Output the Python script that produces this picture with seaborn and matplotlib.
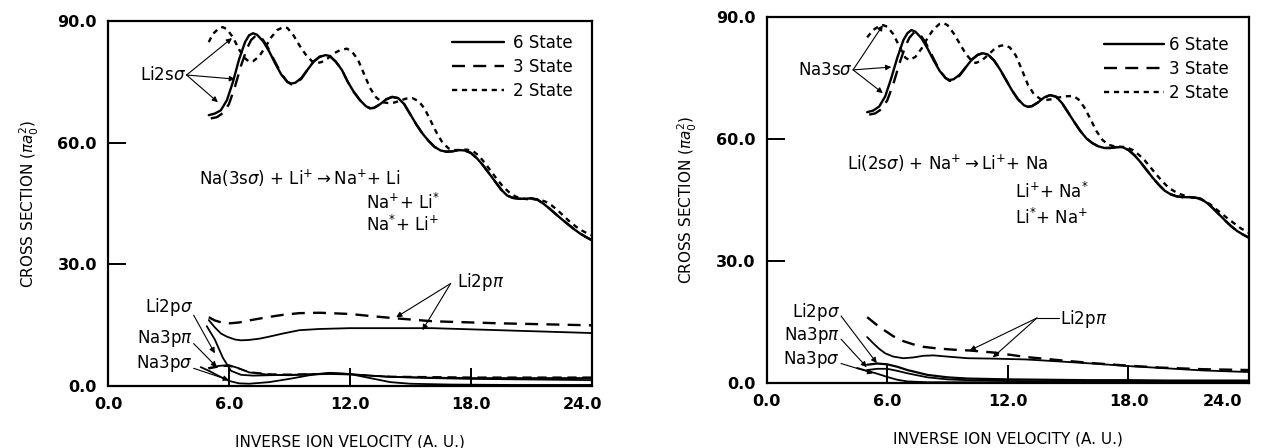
import numpy as np
import pandas as pd
import matplotlib
matplotlib.use('Agg')
import matplotlib.pyplot as plt
import matplotlib.transforms as mtransforms
import seaborn as sns

# ---- left panel: Na(3s) + Li+ ----
l_x6 = [5.0, 5.3, 5.6, 5.9, 6.2, 6.5, 6.8, 7.0, 7.2, 7.4, 7.7, 8.0, 8.3, 8.6, 8.9, 9.1, 9.3, 9.6, 9.9, 10.2,
        10.5, 10.8, 11.0, 11.3, 11.6, 11.9, 12.2, 12.5, 12.8, 13.0, 13.2, 13.5, 13.8, 14.1, 14.4, 14.7, 15.0, 15.3,
        15.6, 15.9, 16.2, 16.5, 16.8, 17.1, 17.4, 17.7, 18.0, 18.3, 18.6, 18.9, 19.2, 19.5, 19.8, 20.1, 20.4, 20.7,
        21.0, 21.3, 21.6, 21.9, 22.2, 22.5, 22.8, 23.1, 23.4, 23.7, 24.0]
l_y6 = [66.8, 67.2, 68.0, 70.5, 75.0, 80.5, 84.8, 86.5, 87.0, 86.6, 85.0, 82.5, 79.5, 76.8, 75.0, 74.6, 74.8, 76.0, 78.0, 80.0,
        81.2, 81.6, 81.4, 80.0, 78.0, 75.0, 72.5, 70.5, 69.0, 68.5, 68.6, 69.5, 70.7, 71.3, 71.0, 69.5, 67.0, 64.5,
        62.3, 60.5, 59.0, 58.1, 57.8, 57.9, 58.2, 58.1, 57.5, 56.2, 54.5, 52.5, 50.5, 48.5, 47.0, 46.4, 46.2, 46.2,
        46.3, 46.0, 45.0, 43.8, 42.5, 41.2, 40.0, 38.8, 37.7, 36.8, 36.0]
l_x3 = [5.1, 5.4, 5.7, 6.0, 6.3, 6.6, 6.9, 7.1, 7.35, 7.6, 7.9, 8.2, 8.6, 8.9, 9.1, 9.3, 9.6, 9.9, 10.2,
        10.5, 10.8, 11.0, 11.3, 11.6, 11.9, 12.2, 12.5, 12.8, 13.0, 13.2, 13.5, 13.8, 14.1, 14.4, 14.7, 15.0, 15.3,
        15.6, 15.9, 16.2, 16.5, 16.8, 17.1, 17.4, 17.7, 18.0, 18.3, 18.6, 18.9, 19.2, 19.5, 19.8, 20.1, 20.4, 20.7,
        21.0, 21.3, 21.6, 21.9, 22.2, 22.5, 22.8, 23.1, 23.4, 23.7, 24.0]
l_y3 = [66.0, 66.3, 67.3, 69.5, 73.8, 79.0, 83.3, 85.3, 86.5, 86.0, 83.8, 80.8, 77.0, 75.0, 74.4, 74.6, 75.8, 78.0, 80.0,
        81.2, 81.6, 81.4, 80.0, 78.0, 75.0, 72.5, 70.5, 69.0, 68.5, 68.6, 69.5, 70.7, 71.3, 71.0, 69.5, 67.0, 64.5,
        62.3, 60.5, 59.0, 58.1, 57.8, 57.9, 58.2, 58.1, 57.5, 56.2, 54.5, 52.5, 50.5, 48.5, 47.0, 46.4, 46.2, 46.2,
        46.3, 46.0, 45.0, 43.8, 42.5, 41.2, 40.0, 38.8, 37.7, 36.8, 36.0]
l_x2 = [5.0, 5.2, 5.5, 5.7, 5.9, 6.2, 6.5, 6.8, 7.0, 7.2, 7.5, 7.8, 8.1, 8.4, 8.7, 8.9, 9.2, 9.5, 9.8, 10.1,
        10.35, 10.6, 10.9, 11.2, 11.5, 11.85, 12.1, 12.4, 12.7, 13.0, 13.3, 13.6, 13.9, 14.2, 14.5, 14.8, 15.1, 15.4,
        15.7, 16.0, 16.3, 16.6, 16.9, 17.2, 17.5, 17.8, 18.1, 18.4, 18.7, 19.0, 19.3, 19.6, 19.9, 20.2, 20.5, 20.8,
        21.1, 21.4, 21.7, 22.0, 22.3, 22.6, 22.9, 23.2, 23.5, 23.8, 24.0]
l_y2 = [84.8, 86.8, 88.2, 88.5, 88.0, 86.0, 83.0, 80.8, 80.0, 80.1, 81.3, 83.5, 86.0, 87.8, 88.5, 88.3, 86.5, 84.0, 81.8, 80.2,
        79.6, 79.9, 80.8, 82.0, 82.8, 83.2, 82.5, 80.5, 77.0, 73.5, 71.2, 70.0, 69.8, 69.9, 70.4, 70.9, 71.0, 70.3,
        68.5, 65.5, 62.5, 60.0, 58.6, 58.2, 58.2, 58.3, 58.0, 56.8, 55.0, 53.0, 51.0, 49.2, 47.8, 46.8, 46.3, 46.1,
        46.1, 46.0, 45.5, 44.6, 43.4, 42.0, 40.6, 39.4, 38.4, 37.6, 37.2]

l_pi3_x = [5.0, 5.3, 5.7, 6.05, 6.5, 7.0, 7.9, 8.7, 9.5, 10.5, 12.0, 13.0, 14.1, 16.1, 19.4, 24.0]
l_pi3_y = [17.0, 16.2, 15.6, 15.5, 15.7, 16.2, 17.0, 17.6, 18.0, 18.1, 17.8, 17.3, 16.8, 16.0, 15.5, 15.0]
l_pi6_x = [5.0, 5.3, 5.6, 5.9, 6.3, 6.6, 7.0, 7.5, 7.9, 8.7, 9.5, 10.5, 12.0, 14.1, 16.1, 19.4, 24.0]
l_pi6_y = [16.3, 14.5, 13.0, 12.2, 11.5, 11.3, 11.4, 11.7, 12.1, 13.0, 13.8, 14.1, 14.3, 14.3, 14.3, 13.8, 13.1]

l_lisig_x = [4.9, 5.3, 5.7, 6.1, 6.6, 7.2, 8.0, 9.0, 10.0, 11.0, 12.0, 13.0, 14.0, 16.0, 18.0, 20.0, 22.0, 24.0]
l_lisig_y = [14.8, 11.5, 7.0, 3.8, 2.8, 2.6, 2.7, 2.8, 2.9, 3.0, 2.9, 2.6, 2.3, 2.0, 1.8, 1.7, 1.6, 1.5]
l_napi_x = [5.0, 5.5, 6.0, 6.5, 7.0, 8.0, 9.0, 10.0, 11.0, 12.0, 13.0, 14.0, 16.0, 18.0, 20.0, 22.0, 24.0]
l_napi_y = [4.5, 5.0, 5.2, 4.4, 3.4, 2.8, 2.7, 2.9, 3.2, 3.0, 2.6, 2.3, 2.1, 2.0, 2.0, 2.0, 2.0]
l_napi3_y = [4.3, 4.8, 5.0, 4.3, 3.5, 3.0, 2.9, 3.0, 3.1, 2.9, 2.6, 2.4, 2.3, 2.2, 2.2, 2.2, 2.2]
l_nasig_x = [4.6, 5.0, 5.5, 6.0, 6.5, 7.0, 8.0, 9.0, 10.0, 11.0, 12.0, 13.0, 14.0, 15.0, 17.0, 20.0, 24.0]
l_nasig_y = [4.7, 3.8, 2.5, 1.3, 0.7, 0.6, 1.0, 1.8, 2.7, 3.3, 3.0, 2.0, 1.0, 0.6, 0.4, 0.3, 0.3]

# ---- right panel: Li(2s) + Na+ ----
r_x6 = [5.0, 5.3, 5.6, 5.9, 6.2, 6.5, 6.8, 7.0, 7.2, 7.4, 7.7, 8.0, 8.3, 8.6, 8.9, 9.1, 9.3, 9.6, 9.9, 10.2,
        10.5, 10.75, 11.0, 11.3, 11.6, 11.9, 12.2, 12.5, 12.8, 13.0, 13.2, 13.5, 13.8, 14.1, 14.4, 14.7, 15.0, 15.3,
        15.6, 15.9, 16.2, 16.5, 16.8, 17.1, 17.4, 17.7, 18.0, 18.3, 18.6, 18.9, 19.2, 19.5, 19.8, 20.1, 20.4, 20.7,
        21.0, 21.3, 21.6, 21.9, 22.2, 22.5, 22.8, 23.1, 23.4, 23.7, 24.0]
r_y6 = [66.6, 67.0, 68.0, 70.5, 75.0, 80.0, 84.3, 86.0, 86.8, 86.4, 84.8, 82.3, 79.4, 76.8, 75.0, 74.5, 74.7, 75.8, 77.6, 79.5,
        80.7, 81.1, 80.8, 79.4, 77.2, 74.6, 72.0, 69.8, 68.3, 67.9, 68.1, 69.0, 70.2, 70.8, 70.4, 68.8, 66.5, 64.2,
        62.0, 60.2, 59.0, 58.2, 57.8, 57.8, 58.0, 58.0, 57.3, 56.0, 54.3, 52.4, 50.5, 48.8, 47.3, 46.4, 45.9, 45.7,
        45.7, 45.6, 45.3, 44.3, 43.0, 41.5, 40.0, 38.6, 37.4, 36.5, 35.7]
r_x3 = [5.1, 5.4, 5.7, 6.0, 6.3, 6.6, 6.9, 7.1, 7.35, 7.6, 7.9, 8.2, 8.6, 8.9, 9.1, 9.3, 9.6, 9.9, 10.2,
        10.5, 10.75, 11.0, 11.3, 11.6, 11.9, 12.2, 12.5, 12.8, 13.0, 13.2, 13.5, 13.8, 14.1, 14.4, 14.7, 15.0, 15.3,
        15.6, 15.9, 16.2, 16.5, 16.8, 17.1, 17.4, 17.7, 18.0, 18.3, 18.6, 18.9, 19.2, 19.5, 19.8, 20.1, 20.4, 20.7,
        21.0, 21.3, 21.6, 21.9, 22.2, 22.5, 22.8, 23.1, 23.4, 23.7, 24.0]
r_y3 = [66.0, 66.3, 67.3, 69.5, 73.5, 78.5, 82.8, 84.9, 86.3, 85.9, 83.8, 80.8, 76.9, 75.0, 74.3, 74.4, 75.6, 77.6, 79.5,
        80.7, 81.1, 80.8, 79.4, 77.2, 74.6, 72.0, 69.8, 68.3, 67.9, 68.1, 69.0, 70.2, 70.8, 70.4, 68.8, 66.5, 64.2,
        62.0, 60.2, 59.0, 58.2, 57.8, 57.8, 58.0, 58.0, 57.3, 56.0, 54.3, 52.4, 50.5, 48.8, 47.3, 46.4, 45.9, 45.7,
        45.7, 45.6, 45.3, 44.3, 43.0, 41.5, 40.0, 38.6, 37.4, 36.5, 35.7]
r_x2 = [5.0, 5.3, 5.6, 5.8, 6.0, 6.3, 6.6, 6.9, 7.1, 7.4, 7.7, 8.0, 8.3, 8.6, 8.8, 9.0, 9.3, 9.6, 9.9, 10.2,
        10.4, 10.7, 11.0, 11.3, 11.6, 11.85, 12.1, 12.4, 12.7, 13.0, 13.3, 13.6, 13.9, 14.2, 14.5, 14.9, 15.25, 15.5,
        15.8, 16.1, 16.4, 16.7, 17.0, 17.3, 17.6, 17.9, 18.2, 18.5, 18.8, 19.1, 19.4, 19.7, 20.0, 20.3, 20.6, 20.9,
        21.2, 21.5, 21.8, 22.1, 22.4, 22.7, 23.0, 23.3, 23.6, 24.0]
r_y2 = [85.0, 86.8, 87.8, 88.0, 87.6, 85.8, 82.8, 80.0, 79.4, 80.2, 82.2, 84.8, 87.0, 88.3, 88.5, 88.0, 86.0, 83.5, 81.0, 79.2,
        78.7, 79.3, 80.6, 82.0, 82.9, 83.1, 82.5, 80.5, 77.0, 73.3, 71.0, 69.9, 69.6, 69.8, 70.2, 70.5, 70.6, 69.8,
        67.8, 65.0, 62.0, 59.8, 58.6, 58.2, 58.1, 58.0, 57.3, 56.2, 54.8, 53.0, 51.2, 49.5, 48.0, 47.1, 46.4, 45.9,
        45.6, 45.3, 44.8, 43.8, 42.6, 41.4, 40.2, 39.1, 38.0, 36.9]

r_pi3_x = [5.0, 5.3, 5.6, 6.0, 6.3, 6.8, 7.3, 7.8, 8.5, 9.3, 10.1, 11.3, 12.9, 14.6, 16.2, 17.9, 19.6, 21.7, 24.0]
r_pi3_y = [16.2, 15.0, 13.8, 12.5, 11.5, 10.3, 9.5, 8.9, 8.5, 8.2, 8.0, 7.5, 6.4, 5.6, 4.9, 4.3, 3.8, 3.4, 3.2]
r_pi6_x = [5.0, 5.3, 5.6, 5.9, 6.3, 6.8, 7.3, 7.8, 8.3, 9.0, 10.0, 11.3, 12.9, 14.6, 16.2, 17.9, 19.6, 21.7, 24.0]
r_pi6_y = [11.3, 9.8, 8.4, 7.3, 6.5, 6.1, 6.3, 6.7, 6.8, 6.5, 6.1, 6.0, 5.8, 5.3, 4.8, 4.2, 3.7, 3.1, 2.7]

r_lisig_x = [5.0, 5.5, 6.0, 6.5, 7.0, 8.0, 9.0, 10.0, 12.0, 14.0, 16.0, 18.0, 20.0, 22.0, 24.0]
r_lisig_y = [4.5, 4.8, 4.6, 4.0, 3.2, 2.0, 1.4, 1.1, 0.9, 0.8, 0.7, 0.7, 0.6, 0.6, 0.6]
r_napi_x = [5.0, 5.5, 6.0, 6.5, 7.0, 8.0, 9.0, 10.0, 12.0, 16.0, 20.0, 24.0]
r_napi_y = [3.2, 3.5, 3.5, 3.0, 2.4, 1.4, 0.9, 0.7, 0.5, 0.4, 0.3, 0.3]
r_nasig_x = [4.5, 5.0, 5.5, 6.0, 6.5, 7.0, 8.0, 10.0, 14.0, 20.0, 24.0]
r_nasig_y = [3.7, 3.0, 2.3, 1.5, 0.8, 0.4, 0.2, 0.2, 0.1, 0.1, 0.1]

state_labels = ['6 State', '3 State', '2 State']
x_ticks = [0.0, 6.0, 12.0, 18.0, 24.0]
y_ticks = [0.0, 30.0, 60.0, 90.0]

solid = '-'
dashed = (0, (5.5, 3.5))
dotted = (0, (2.2, 2.0))
lw = 1.7


def line(ax, x, y, ls, width=lw, label=None):
    sns.lineplot(x=x, y=y, ax=ax, color='black', linestyle=ls, linewidth=width,
                 errorbar=None, sort=False, label=label, legend=False)


def arrow(ax, start, end):
    ax.annotate('', xy=end, xytext=start,
                arrowprops=dict(arrowstyle='-|>', color='black', lw=0.8,
                                mutation_scale=8, shrinkA=0, shrinkB=0))


def style_axes(ax, last_shift, leg_anchor, handlelen, textpad):
    ax.set_xlim(0, 24)
    ax.set_ylim(0, 90)
    ax.set_xticks(x_ticks)
    ax.set_yticks(y_ticks)
    ax.set_xticklabels(['%.1f' % v for v in x_ticks], fontsize=11.5, fontweight='bold')
    ax.set_yticklabels(['%.1f' % v for v in y_ticks], fontsize=11.5, fontweight='bold')
    ax.tick_params(direction='in', length=13, width=1.4, pad=8, bottom=True, left=True,
                   colors='black')
    last = ax.get_xticklabels()[-1]
    last.set_transform(last.get_transform() +
                       mtransforms.ScaledTranslation(last_shift / 100.0, 0, fig.dpi_scale_trans))
    for s in ['top', 'right', 'left', 'bottom']:
        ax.spines[s].set_visible(True)
        ax.spines[s].set_linewidth(1.6)
        ax.spines[s].set_color('black')
    ax.set_xlabel('INVERSE ION VELOCITY (A. U.)', fontsize=11, labelpad=16)
    ax.set_ylabel('CROSS SECTION ($\\pi a_0^2$)', fontsize=11, labelpad=12)
    ax.grid(False)
    ax.legend(handles=ax.lines[:3], labels=state_labels, loc='upper right',
              bbox_to_anchor=leg_anchor, borderaxespad=0, frameon=False,
              fontsize=12, handlelength=handlelen, handletextpad=textpad, labelspacing=0.36)


sns.set_style('white')
plt.rcParams['font.family'] = ['DejaVu Sans']
plt.rcParams['mathtext.fontset'] = 'dejavusans'
plt.rcParams['text.color'] = 'black'
plt.rcParams['axes.labelcolor'] = 'black'

fig = plt.figure(figsize=(12.63, 4.48), dpi=100)
ax1 = fig.add_axes([0.0855, 0.138, 0.383, 0.815])
ax2 = fig.add_axes([0.607, 0.145, 0.382, 0.817])

# left panel
line(ax1, l_x6, l_y6, solid, label='6 State')
line(ax1, l_x3, l_y3, dashed, label='3 State')
line(ax1, l_x2, l_y2, dotted, label='2 State')
line(ax1, l_pi6_x, l_pi6_y, solid, width=1.3)
line(ax1, l_pi3_x, l_pi3_y, dashed)
line(ax1, l_lisig_x, l_lisig_y, solid, width=1.3)
line(ax1, l_napi_x, l_napi_y, solid, width=1.3)
line(ax1, l_napi_x, l_napi3_y, dashed, width=1.2)
line(ax1, l_nasig_x, l_nasig_y, solid, width=1.3)
style_axes(ax1, -9.5, (0.975, 0.982), 3.1, 0.55)

ax1.text(3.85, 76.7, 'Li2s$\\sigma$', fontsize=12, ha='right', va='center')
arrow(ax1, (3.9, 76.7), (6.15, 85.8))
arrow(ax1, (3.9, 76.7), (6.3, 75.7))
arrow(ax1, (3.9, 76.7), (5.45, 70.0))
ax1.text(4.5, 51.3, 'Na(3s$\\sigma$) + Li$^{+}$$\\rightarrow$Na$^{+}$+ Li', fontsize=12, va='center')
ax1.text(12.8, 45.1, 'Na$^{+}$+ Li$^{*}$', fontsize=12, va='center')
ax1.text(12.8, 39.7, 'Na$^{*}$+ Li$^{+}$', fontsize=12, va='center')
ax1.text(17.3, 25.6, 'Li2p$\\pi$', fontsize=12, va='center')
arrow(ax1, (17.0, 25.3), (14.3, 17.0))
arrow(ax1, (17.0, 25.3), (15.6, 13.8))
ax1.text(4.2, 19.5, 'Li2p$\\sigma$', fontsize=12, ha='right', va='center')
ax1.text(4.2, 11.8, 'Na3p$\\pi$', fontsize=12, ha='right', va='center')
ax1.text(4.2, 5.6, 'Na3p$\\sigma$', fontsize=12, ha='right', va='center')
arrow(ax1, (4.25, 17.5), (5.3, 8.1))
arrow(ax1, (4.25, 10.5), (5.4, 4.7))
arrow(ax1, (4.25, 4.4), (6.0, 1.5))

# right panel
line(ax2, r_x6, r_y6, solid, label='6 State')
line(ax2, r_x3, r_y3, dashed, label='3 State')
line(ax2, r_x2, r_y2, dotted, label='2 State')
line(ax2, r_pi6_x, r_pi6_y, solid, width=1.3)
line(ax2, r_pi3_x, r_pi3_y, dashed)
line(ax2, r_lisig_x, r_lisig_y, solid, width=1.6)
line(ax2, r_napi_x, r_napi_y, solid, width=1.3)
line(ax2, r_nasig_x, r_nasig_y, solid, width=1.3)
style_axes(ax2, -26.5, (0.972, 0.967), 3.6, 0.3)

ax2.text(4.28, 77.0, 'Na3s$\\sigma$', fontsize=12, ha='right', va='center')
arrow(ax2, (4.3, 77.0), (5.78, 88.0))
arrow(ax2, (4.3, 77.0), (6.2, 77.7))
arrow(ax2, (4.3, 77.0), (5.78, 71.3))
ax2.text(4.0, 54.0, 'Li(2s$\\sigma$) + Na$^{+}$$\\rightarrow$Li$^{+}$+ Na', fontsize=12, va='center')
ax2.text(12.35, 47.0, 'Li$^{+}$+ Na$^{*}$', fontsize=12, va='center')
ax2.text(12.35, 40.6, 'Li$^{*}$+ Na$^{+}$', fontsize=12, va='center')
ax2.text(14.6, 15.8, 'Li2p$\\pi$', fontsize=12, va='center')
ax2.plot([13.45, 14.55], [16.0, 16.0], color='black', lw=0.8)
arrow(ax2, (13.45, 16.0), (10.1, 8.0))
arrow(ax2, (13.45, 16.0), (11.25, 6.3))
ax2.text(3.65, 17.5, 'Li2p$\\sigma$', fontsize=12, ha='right', va='center')
ax2.text(3.65, 11.8, 'Na3p$\\pi$', fontsize=12, ha='right', va='center')
ax2.text(3.65, 5.7, 'Na3p$\\sigma$', fontsize=12, ha='right', va='center')
arrow(ax2, (3.7, 16.5), (5.48, 4.9))
arrow(ax2, (3.7, 10.8), (4.98, 3.9))
arrow(ax2, (3.7, 4.8), (5.3, 2.4))

fig.savefig('out.png', dpi=100)
